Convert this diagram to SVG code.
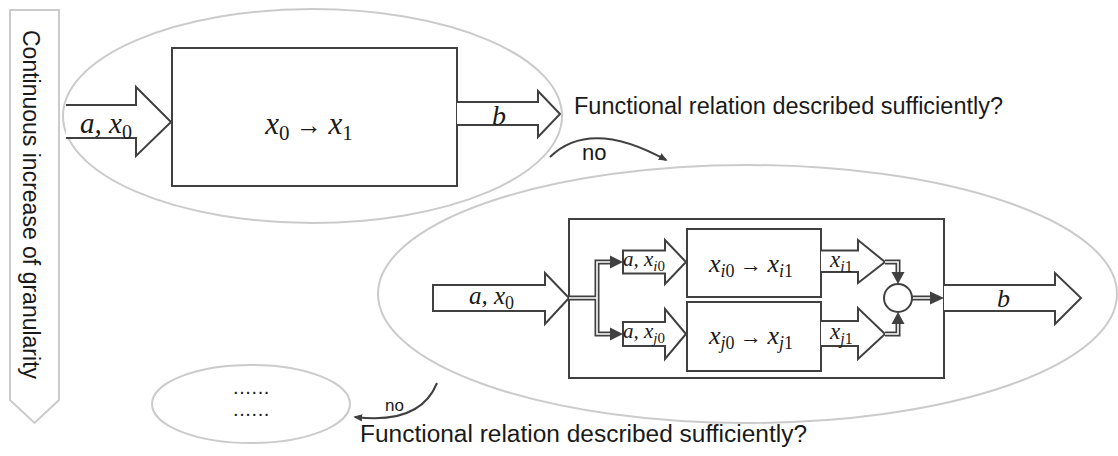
<svg xmlns="http://www.w3.org/2000/svg" width="1118" height="456" viewBox="0 0 1118 456">
<style>
.bg{fill:#fff}
.ell{fill:none;stroke:#cbcbcb;stroke-width:2}
.box{fill:#fff;stroke:#404040;stroke-width:2}
.arr{fill:#fff;stroke:#404040;stroke-width:2;stroke-linejoin:miter}
.dbl{fill:none;stroke:#404040;stroke-width:5}
.dbli{fill:none;stroke:#fff;stroke-width:1.6}
.head{fill:#404040}
.t{font-family:"Liberation Sans",Arial,sans-serif;fill:#1a1a1a}
.m{font-family:"Liberation Serif","Times New Roman",serif;font-style:italic;fill:#1a1a1a}
.u{font-style:normal}
.curve{fill:none;stroke:#404040;stroke-width:2;marker-end:url(#ah)}
</style>
<defs>
<marker id="ah" viewBox="0 0 10 10" refX="8" refY="5" markerWidth="4.5" markerHeight="4.5" orient="auto" markerUnits="strokeWidth">
<path d="M0,1 L10,5 L0,9 z" fill="#404040"/>
</marker>
</defs>
<rect class="bg" x="0" y="0" width="1118" height="456"/>

<g id="granularity">
<polygon points="10,10 59,10 59,400 34.5,423 10,400" fill="#fff" stroke="#cbcbcb" stroke-width="2"/>
<text class="t" font-size="23" transform="translate(23,30) rotate(90)">Continuous increase of granularity</text>
</g>

<g id="level1">
<ellipse class="ell" cx="312.5" cy="116" rx="249.5" ry="107"/>
<path class="arr" d="M66,105 L136,105 L136,87 L171,122 L136,156 L136,138 L66,138"/>
<text class="m" font-size="29" x="80" y="133">a, x<tspan class="u" font-size="20" dy="6">0</tspan></text>
<rect class="box" x="172" y="48" width="285" height="138"/>
<text class="m" font-size="31" x="309" y="134" text-anchor="middle">x<tspan class="u" font-size="21" dy="6">0</tspan><tspan class="u" font-size="26" dy="-6"> → </tspan> x<tspan class="u" font-size="21" dy="6">1</tspan></text>
<path class="arr" d="M457,102 L538,102 L538,91 L560,114 L538,137 L538,125 L457,125"/>
<text class="m" font-size="28" x="492" y="125">b</text>
</g>

<g id="question1">
<text class="t" font-size="23.5" x="574" y="114" textLength="429" lengthAdjust="spacingAndGlyphs">Functional relation described sufficiently?</text>
</g>

<g id="level2">
<ellipse class="ell" cx="747.5" cy="294" rx="369.5" ry="129"/>
<rect class="box" x="569" y="219" width="375" height="159"/>
<path class="arr" d="M433,285 L545,285 L545,273 L569,298 L545,324 L545,311 L433,311 Z"/>
<text class="m" font-size="25" x="469" y="304">a, x<tspan class="u" font-size="18" dy="5">0</tspan></text>

<g id="split">
<path class="dbl" d="M569,298 H597 V262 H612 M597,298 V334 H612"/>
<path class="dbli" d="M569,298 H597 V262 H612 M597,298 V334 H612"/>
<polygon class="head" points="610,255.5 623,262 610,268.5"/>
<polygon class="head" points="610,327.5 623,334 610,340.5"/>
</g>

<g id="in-i">
<path class="arr" d="M623,250.5 L665,250.5 L665,240 L686,262 L665,284 L665,273.5 L623,273.5 Z"/>
<text class="m" font-size="21" x="623" y="266">a, x<tspan font-size="15" dy="5">i</tspan><tspan class="u" font-size="15">0</tspan></text>
</g>
<g id="in-j">
<path class="arr" d="M623,322 L665,322 L665,309 L686,334 L665,359 L665,346 L623,346 Z"/>
<text class="m" font-size="21" x="623" y="338">a, x<tspan font-size="15" dy="5">j</tspan><tspan class="u" font-size="15">0</tspan></text>
</g>

<g id="box-i">
<rect class="box" x="687" y="229" width="134" height="68"/>
<text class="m" font-size="26" x="751" y="272" text-anchor="middle">x<tspan font-size="18" dy="5">i</tspan><tspan class="u" font-size="18">0</tspan><tspan class="u" font-size="22" dy="-5"> → </tspan> x<tspan font-size="18" dy="5">i</tspan><tspan class="u" font-size="18">1</tspan></text>
</g>
<g id="box-j">
<rect class="box" x="687" y="302" width="134" height="69"/>
<text class="m" font-size="26" x="751" y="344" text-anchor="middle">x<tspan font-size="18" dy="5">j</tspan><tspan class="u" font-size="18">0</tspan><tspan class="u" font-size="22" dy="-5"> → </tspan> x<tspan font-size="18" dy="5">j</tspan><tspan class="u" font-size="18">1</tspan></text>
</g>

<g id="out-i">
<path class="arr" d="M821,250.5 L858,250.5 L858,240 L885,262 L858,283 L858,272 L821,272"/>
<text class="m" font-size="23" x="830" y="267">x<tspan font-size="16" dy="5">i</tspan><tspan class="u" font-size="16">1</tspan></text>
</g>
<g id="out-j">
<path class="arr" d="M821,321 L858,321 L858,308 L885,334 L858,359 L858,346 L821,346"/>
<text class="m" font-size="23" x="830" y="339">x<tspan font-size="16" dy="5">j</tspan><tspan class="u" font-size="16">1</tspan></text>
</g>

<g id="merge">
<path class="dbl" d="M885,262 H898 V273 M885,334 H898 V323 M912,298 H931"/>
<path class="dbli" d="M885,262 H898 V273 M885,334 H898 V323 M912,298 H931"/>
<polygon class="head" points="891.5,272 904.5,272 898,284"/>
<polygon class="head" points="891.5,324 904.5,324 898,312"/>
<polygon class="head" points="930,291.5 944,298 930,304.5"/>
<circle cx="898" cy="298" r="14" fill="#fff" stroke="#404040" stroke-width="2"/>
</g>

<g id="out-b">
<path class="arr" d="M944,285 L1055,285 L1055,273 L1081,298 L1055,324 L1055,311 L944,311"/>
<text class="m" font-size="26" x="997" y="307">b</text>
</g>
</g>

<g id="level3">
<ellipse class="ell" cx="251" cy="404" rx="99" ry="39"/>
<text class="t" font-size="20" x="233" y="394" fill="#333" letter-spacing="0.6">......</text>
<text class="t" font-size="20" x="233" y="416" fill="#333" letter-spacing="0.6">......</text>
</g>

<g id="question2">
<text class="t" font-size="23.5" x="360" y="442" textLength="447" lengthAdjust="spacingAndGlyphs">Functional relation described sufficiently?</text>
</g>

<g id="connectors">
<path class="curve" d="M550,157 Q590,118 666,160"/>
<text class="t" font-size="22" x="582" y="160">no</text>
<path class="curve" d="M437,383 Q420,425 355,417"/>
<text class="t" font-size="17" x="385" y="411">no</text>
</g>
</svg>
